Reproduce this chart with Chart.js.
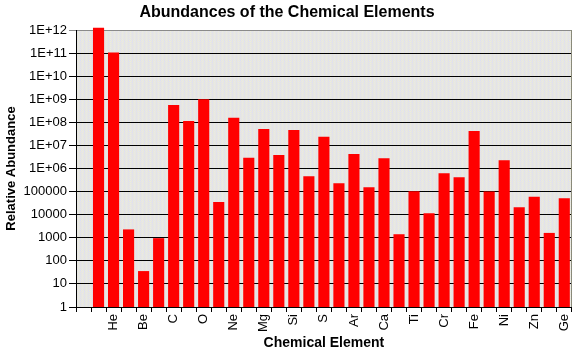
<!DOCTYPE html>
<html>
<head>
<meta charset="utf-8">
<script src="https://cdn.jsdelivr.net/npm/chart.js@4/dist/chart.umd.min.js"></script>
<style>
html,body{margin:0;padding:0;background:#fff;}
#wrap{width:582px;height:353px;position:relative;}
</style>
</head>
<body>
<div id="wrap"><canvas id="c" width="582" height="353"></canvas></div>
<script>
// Categories (leading blank slot as in the reference)
const elements = ["", "H", "He", "Li", "Be", "B", "C", "N", "O", "F", "Ne", "Na", "Mg", "Al", "Si", "P", "S",
  "Cl", "Ar", "K", "Ca", "Sc", "Ti", "V", "Cr", "Mn", "Fe", "Co", "Ni", "Cu", "Zn", "Ga", "Ge"];
// Relative abundance values
const abundance = [null, 1.25e12, 1.05e11, 2300, 36, 960, 5.6e8, 1.13e8, 1.0e9, 35000, 1.57e8, 2.9e6, 5.1e7,
  3.8e6, 4.6e7, 4.6e5, 2.35e7, 2.3e5, 4.2e6, 1.56e5, 2.8e6, 1420, 1.04e5, 11600, 6.3e5, 4.2e5, 4.2e7,
  1.0e5, 2.3e6, 21000, 59000, 1620, 52000];
// Y tick values (decades)
const yTicks = [1, 10, 100, 1000, 1e4, 1e5, 1e6, 1e7, 1e8, 1e9, 1e10, 1e11, 1e12];

const FONT = "'Liberation Sans', Arial, sans-serif";

function makePattern(ctx) {
  const p = document.createElement('canvas');
  p.width = 4; p.height = 2;
  const g = p.getContext('2d');
  const cols = [["#dcdcf6", "#eeeed2", "#e2e2ee", "#ececd8"],
                ["#eaeada", "#dedef4", "#f0f0d4", "#e0e0f0"]];
  for (let y = 0; y < 2; y++) for (let x = 0; x < 4; x++) { g.fillStyle = cols[y][x]; g.fillRect(x, y, 1, 1); }
  return ctx.createPattern(p, 'repeat');
}

const plotBg = {
  id: 'plotBg',
  beforeDraw(chart) {
    const {ctx, chartArea: a} = chart;
    ctx.save();
    ctx.fillStyle = makePattern(ctx);
    ctx.fillRect(a.left, a.top, a.right - a.left, a.bottom - a.top);
    ctx.restore();
  },
  afterDraw(chart) {
    const {ctx, chartArea: a} = chart;
    ctx.save();
    ctx.strokeStyle = '#8a8a7a';
    ctx.lineWidth = 1;
    ctx.beginPath();
    ctx.moveTo(Math.round(a.right) - 0.5, a.top);
    ctx.lineTo(Math.round(a.right) - 0.5, a.bottom);
    ctx.stroke();
    ctx.restore();
  }
};

new Chart(document.getElementById('c'), {
  type: 'bar',
  data: {
    labels: elements,
    datasets: [{
      data: abundance,
      backgroundColor: '#ff0000',
      borderWidth: 0,
      barPercentage: 0.74,
      categoryPercentage: 1.0,
      clip: false
    }]
  },
  options: {
    responsive: false,
    animation: false,
    layout: {padding: {left: 0, right: 8, top: 0, bottom: 0}},
    plugins: {
      legend: {display: false},
      tooltip: {enabled: false},
      title: {
        display: true,
        text: 'Abundances of the Chemical Elements',
        color: '#000',
        font: {family: FONT, size: 16, weight: 'bold', lineHeight: 1.125},
        padding: {top: 4, bottom: 8}
      }
    },
    scales: {
      x: {
        type: 'category',
        offset: true,
        grid: {display: true, offset: true, drawOnChartArea: false, drawTicks: true, tickLength: 5, color: '#000'},
        border: {display: true, color: '#000'},
        ticks: {
          autoSkip: false, maxRotation: 90, minRotation: 90, padding: 2,
          color: '#000', font: {family: FONT, size: 13},
          callback: (v, i) => (i >= 2 && i % 2 === 0) ? elements[i] : ''
        },
        title: {display: true, text: 'Chemical Element', color: '#000',
          font: {family: FONT, size: 14, weight: 'bold'}, padding: {top: 0, bottom: 1}},
        afterFit: s => { s.height = 46; }
      },
      y: {
        type: 'logarithmic',
        min: 1, max: 1e12,
        afterBuildTicks: s => { s.ticks = yTicks.map(v => ({value: v})); },
        grid: {color: ctx => (ctx.tick && ctx.tick.value === 1e12) ? '#8a8a8a' : '#000', tickLength: 7, drawTicks: true},
        border: {display: true, color: '#000'},
        ticks: {
          color: '#000', padding: 2, font: {family: FONT, size: 13},
          callback: v => {
            const e = Math.round(Math.log10(v));
            return e < 6 ? String(Math.round(v)) : '1E+' + (e < 10 ? '0' + e : e);
          }
        },
        title: {display: true, text: 'Relative Abundance', color: '#000',
          font: {family: FONT, size: 13, weight: 'bold'}, padding: {top: 4, bottom: 0}},
        afterFit: s => { s.width = 76; }
      }
    }
  },
  plugins: [plotBg]
});
</script>
</body>
</html>
